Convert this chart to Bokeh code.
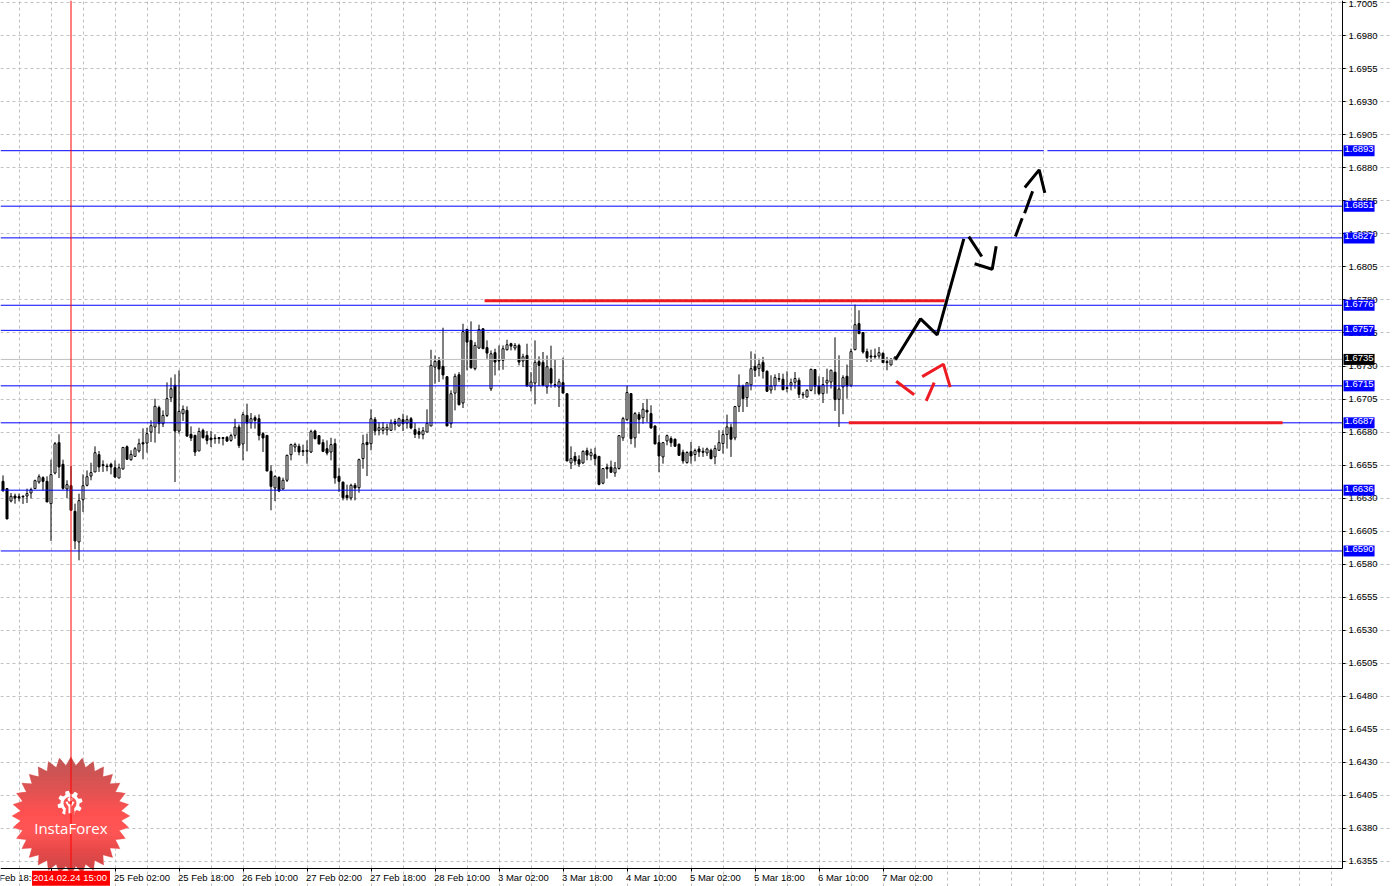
import math
from bokeh.embed import file_html
from bokeh.models import (ColumnDataSource, FixedTicker, Label, NumeralTickFormatter,
                          PolyAnnotation, Range1d)
from bokeh.plotting import figure
from bokeh.resources import INLINE

highs = [
 1.66472,1.66372,1.66339,1.66334,1.66334,1.66321,1.66372,1.66379,1.6644,1.6648,
 1.66465,1.66465,1.66591,1.66725,1.66783,1.66591,1.66435,1.66543,1.66258,1.66334,
 1.6648,1.6651,1.66568,1.66692,1.66657,1.66586,1.66561,1.66568,1.66586,1.66561,
 1.66687,1.66699,1.66662,1.66687,1.6675,1.66828,1.66833,1.66889,1.67053,1.67,
 1.66964,1.67176,1.67212,1.67237,1.67267,1.67002,1.66995,1.66843,1.6678,1.66833,
 1.66826,1.66808,1.66808,1.66783,1.66763,1.66763,1.6677,1.66788,1.66901,1.66858,
 1.66952,1.67015,1.66944,1.66926,1.66934,1.668,1.66775,1.66548,1.66472,1.66465,
 1.66455,1.66629,1.66712,1.6672,1.66712,
 1.66705,1.66737,1.66818,1.66818,1.66775,1.66745,1.66737,1.66757,1.6675,1.6653,
 1.66422,1.66402,1.66409,1.66414,1.66599,1.6678,1.66788,1.66972,1.66914,1.66876,
 1.66876,1.66863,1.66896,1.66901,1.66909,1.66939,1.66926,1.66914,1.66868,1.66833,
 1.66838,1.66972,1.67423,1.6738,1.67368,1.6759,1.67224,1.67116,1.67242,1.67254,
 1.6762,1.67582,1.67638,1.67481,1.67613,1.67582,1.67494,1.67418,1.67431,1.67456,
 1.67456,1.67499,1.67476,1.67474,1.67469,1.67393,1.67469,1.67254,1.67494,1.67373,
 1.67406,1.6738,1.67454,1.67348,1.67204,1.67363,1.67095,1.66692,1.66649,1.66624,
 1.66662,1.66682,1.66674,1.66682,1.66619,
 1.66524,1.66561,1.66584,1.66574,1.66776,1.66915,1.67149,1.67096,1.66952,1.66952,
 1.6702,1.67051,1.67003,1.66851,1.66776,1.66725,1.66781,1.66768,1.66751,1.66713,
 1.66667,1.66655,1.66725,1.66675,1.66695,1.66682,1.66682,1.66675,1.667,1.66814,
 1.66814,1.66932,1.66864,1.66998,1.67237,1.67159,1.67174,1.67411,1.67394,1.67356,
 1.67369,1.67268,1.6723,1.67237,1.67247,1.67242,1.6726,1.67205,1.67255,1.67212,
 1.67104,1.67126,1.6728,1.67275,1.67222,1.67217,1.6728,1.67273,1.67517,1.67381,
 1.6723,1.67311,1.67432,1.67765,1.67722,1.67553,1.67432,1.67424,1.67432,1.67444,
 1.67404,1.67369,1.67361,1.67376]

lows = [
 1.66346,1.66142,1.66268,1.66258,1.66276,1.66256,1.66263,1.66298,1.66372,1.66409,
 1.66359,1.66271,1.65976,1.6648,1.66452,1.66364,1.66301,1.66208,1.65913,1.65829,
 1.66195,1.66389,1.66435,1.66498,1.66498,1.66498,1.66503,1.6648,1.66452,1.66452,
 1.6652,1.66591,1.66583,1.66616,1.66644,1.66594,1.66644,1.66725,1.6672,1.66788,
 1.66838,1.66914,1.67027,1.66422,1.66788,1.66884,1.66763,1.66732,1.66619,1.66657,
 1.6675,1.66707,1.66687,1.66712,1.66712,1.66699,1.66725,1.66727,1.6675,1.66679,
 1.66586,1.66654,1.66826,1.66826,1.66737,1.66649,1.66505,1.66208,1.66278,1.66346,
 1.66364,1.66422,1.66586,1.66649,1.66624,
 1.66619,1.66561,1.66641,1.66745,1.66707,1.66649,1.66624,1.66586,1.66409,1.66346,
 1.66283,1.66283,1.66283,1.66283,1.66341,1.66523,1.66467,1.66662,1.66775,1.66775,
 1.66783,1.66775,1.66808,1.66813,1.66843,1.66808,1.66826,1.66821,1.66755,1.6675,
 1.66745,1.668,1.66846,1.67166,1.67179,1.67199,1.66846,1.66831,1.66964,1.67002,
 1.66982,1.67267,1.6728,1.67267,1.67431,1.67431,1.67355,1.67111,1.67229,1.67267,
 1.67272,1.67418,1.67418,1.67418,1.67305,1.67292,1.67148,1.67108,1.6701,1.67148,
 1.67146,1.6709,1.67136,1.67136,1.6699,1.67095,1.66581,1.6652,1.66548,1.66536,
 1.66561,1.66586,1.66586,1.66548,1.66397,
 1.66405,1.66448,1.66491,1.66461,1.66516,1.66733,1.66884,1.66708,1.66682,1.66788,
 1.66864,1.66877,1.66826,1.66708,1.66496,1.66561,1.667,1.66688,1.66688,1.66619,
 1.66561,1.66561,1.66561,1.66579,1.66612,1.66612,1.66619,1.66594,1.66556,1.66657,
 1.66637,1.66675,1.66612,1.66738,1.66952,1.66952,1.6699,1.67116,1.67217,1.67222,
 1.67205,1.67104,1.67091,1.67116,1.67179,1.67116,1.67101,1.67116,1.67129,1.67058,
 1.67053,1.67061,1.67109,1.67086,1.67078,1.6702,1.67091,1.67129,1.6696,1.66839,
 1.66935,1.67053,1.67142,1.67419,1.67545,1.67394,1.67331,1.67331,1.67356,1.67356,
 1.67323,1.67268,1.67305,1.67348]

opens = [
 1.66427,1.66372,1.66278,1.66316,1.66311,1.66314,1.66316,1.66339,1.66372,1.66422,
 1.66455,1.66427,1.66258,1.6649,1.6672,1.66556,1.66369,1.66394,1.662,1.65968,
 1.66288,1.66397,1.66467,1.66498,1.66629,1.66553,1.66543,1.66556,1.6653,1.66452,
 1.6652,1.66689,1.66591,1.66616,1.66657,1.6672,1.66717,1.668,1.66838,1.66985,
 1.66863,1.66926,1.6706,1.67154,1.66808,1.66939,1.66964,1.66783,1.66775,1.66657,
 1.66813,1.66775,1.66755,1.66755,1.66758,1.66758,1.6676,1.66737,1.66775,1.66838,
 1.6671,1.66926,1.66871,1.66909,1.66901,1.66788,1.66775,1.66503,1.66377,1.66457,
 1.66369,1.66435,1.66629,1.66687,1.66692,
 1.66659,1.66654,1.66649,1.66808,1.66773,1.6672,1.66674,1.66649,1.66712,1.66465,
 1.66422,1.66321,1.66301,1.66397,1.66379,1.66599,1.66722,1.66712,1.66896,1.66813,
 1.66813,1.66816,1.66813,1.66879,1.66846,1.66894,1.66868,1.66901,1.66818,1.66803,
 1.6678,1.668,1.66846,1.67292,1.6734,1.67297,1.67219,1.66863,1.67095,1.67234,
 1.6702,1.67577,1.67494,1.6728,1.67436,1.67582,1.67439,1.67128,1.67401,1.67343,
 1.67343,1.67423,1.67469,1.67436,1.67456,1.67338,1.6738,1.67141,1.67171,1.67333,
 1.67328,1.67141,1.6728,1.67159,1.67141,1.67174,1.6709,1.66566,1.66616,1.66591,
 1.66566,1.66659,1.66621,1.66629,1.66616,
 1.66413,1.66534,1.66534,1.66491,1.66524,1.66756,1.66894,1.67091,1.66756,1.66932,
 1.66909,1.66965,1.6694,1.66846,1.6672,1.66612,1.66733,1.66751,1.66746,1.66708,
 1.66647,1.66569,1.66652,1.6663,1.66672,1.66655,1.66642,1.66662,1.66612,1.66662,
 1.66713,1.66781,1.66836,1.66756,1.66995,1.67149,1.67061,1.67157,1.67298,1.6728,
 1.67328,1.6726,1.67119,1.67152,1.67205,1.672,1.67136,1.67154,1.67177,1.67192,
 1.67086,1.67066,1.67116,1.67273,1.67149,1.67091,1.67172,1.67179,1.67253,1.67048,
 1.67142,1.67222,1.67154,1.67424,1.67621,1.67553,1.67409,1.67376,1.67376,1.67376,
 1.67396,1.67333,1.67308,1.67348]

closes = [
 1.66359,1.66142,1.66314,1.66301,1.66301,1.66309,1.66334,1.66364,1.66432,1.66462,
 1.66427,1.66271,1.66478,1.66712,1.66536,1.66374,1.66402,1.66208,1.65976,1.66281,
 1.66394,1.66462,1.66493,1.66644,1.66536,1.66546,1.66538,1.66536,1.6646,1.6653,
 1.66684,1.66594,1.66631,1.66674,1.66712,1.6671,1.66788,1.66848,1.66995,1.66863,
 1.66926,1.67053,1.67128,1.66808,1.66957,1.66972,1.6677,1.66755,1.66649,1.66805,
 1.66758,1.66737,1.66742,1.6675,1.6675,1.66752,1.66732,1.66773,1.66838,1.66699,
 1.66932,1.66868,1.66901,1.66889,1.66775,1.66755,1.66505,1.66389,1.66465,1.66354,
 1.66435,1.66624,1.66705,1.66705,1.66649,
 1.66652,1.66662,1.66803,1.6675,1.6671,1.66654,1.66641,1.66705,1.66452,1.66427,
 1.66303,1.66303,1.66397,1.66377,1.66591,1.66712,1.66705,1.66901,1.66808,1.66833,
 1.66833,1.66836,1.66868,1.66861,1.66901,1.66863,1.66894,1.66831,1.66783,1.66783,
 1.6681,1.66866,1.67305,1.67335,1.67277,1.67232,1.66846,1.6709,1.67222,1.67007,
 1.6756,1.67481,1.67287,1.67456,1.67577,1.67431,1.67398,1.67393,1.6733,1.67338,
 1.67431,1.67461,1.67451,1.67456,1.6733,1.6737,1.67148,1.67179,1.67328,1.67305,
 1.67153,1.67295,1.67171,1.67151,1.67181,1.67095,1.66581,1.66599,1.66581,1.66558,
 1.66654,1.66626,1.66644,1.66599,1.66404,
 1.66524,1.66521,1.66496,1.66529,1.66773,1.66902,1.67099,1.66751,1.6694,1.66897,
 1.66973,1.66952,1.66831,1.6671,1.66619,1.6672,1.66773,1.6672,1.66693,1.66624,
 1.66582,1.66645,1.66619,1.6666,1.6665,1.66647,1.66672,1.66599,1.66675,1.6672,
 1.66781,1.66839,1.66746,1.66993,1.67149,1.67053,1.67174,1.6728,1.67268,1.67313,
 1.6726,1.67109,1.67149,1.67212,1.672,1.67121,1.67131,1.67174,1.67205,1.67086,
 1.67081,1.67116,1.67275,1.67147,1.67091,1.67159,1.67192,1.67268,1.67046,1.67126,
 1.67212,1.67149,1.67409,1.67613,1.67545,1.67406,1.67363,1.67369,1.67369,1.67401,
 1.67326,1.67326,1.67351,1.67366]

tick_prices = [round(1.6355 + 0.0025 * k, 4) for k in range(27)]
blue_levels = [1.6893, 1.6851, 1.6827, 1.6776, 1.6757, 1.6715, 1.6687, 1.6636, 1.6590]
current_price = 1.6735
date_ticks = [-4, 12, 28, 44, 60, 76, 92, 108, 124, 140, 156, 172, 188, 204, 220]
date_labels = ["23 Feb 18:00", "24 Feb 10:00", "25 Feb 02:00", "25 Feb 18:00", "26 Feb 10:00", "27 Feb 02:00",
               "27 Feb 18:00", "28 Feb 10:00", "3 Mar 02:00", "3 Mar 18:00", "4 Mar 10:00",
               "5 Mar 02:00", "5 Mar 18:00", "6 Mar 10:00", "7 Mar 02:00"]
crosshair_bar = 17
crosshair_text = "2014.02.24 15:00"

# hand-drawn forecast strokes: (bar index, price)
black_strokes = [
 ([223.1, 229.4, 233.55, 240.2], [1.67347, 1.67657, 1.67536, 1.68263]),
 ([241.45, 244.7], [1.6828, 1.68129]),
 ([242.9, 247.3, 248.3], [1.68074, 1.68033, 1.68207]),
 ([253.1, 254.8], [1.6828, 1.68419]),
 ([255.4, 257.4], [1.68457, 1.68623]),
 ([255.45, 259.05, 260.45], [1.68651, 1.68785, 1.68611]),
]
red_strokes = [
 ([223.3, 227.8], [1.67185, 1.67082]),
 ([230.8, 232.8], [1.67036, 1.67175]),
 ([229.8, 235.1, 236.8], [1.6722, 1.67314, 1.6714]),
]
red_bars = [([120.4, 235.4], [1.67795, 1.67795]), ([211.45, 319.9], [1.6687, 1.6687])]
level_gap = ([260.2, 261.1], [1.6893, 1.6893])

FONT = "Liberation Sans"
FS = "9.5px"
W, H = 1392, 886
X_LEFT, X_AXIS, X_RIGHT = -0.625, 334.875, 347.375
P_BOTTOM_AXIS, P_TOP, P_BOTTOM = 1.63496, 1.70067, 1.63360

n = len(highs)
assert n == len(lows) == len(opens) == len(closes)
src = ColumnDataSource(dict(
    x=list(range(n)), high=highs, low=lows,
    top=[max(o, c) for o, c in zip(opens, closes)],
    bot=[min(o, c) for o, c in zip(opens, closes)],
    fill=["white" if c >= o else "black" for o, c in zip(opens, closes)],
))

p = figure(width=W, height=H, output_backend="svg", toolbar_location=None,
           x_range=Range1d(X_LEFT, X_RIGHT), y_range=Range1d(P_BOTTOM, P_TOP),
           y_axis_location="right", min_border=0, background_fill_color="white",
           outline_line_color=None)

p.yaxis.fixed_location = X_AXIS
p.xaxis.fixed_location = P_BOTTOM_AXIS
p.yaxis.bounds = (P_BOTTOM_AXIS, P_TOP)
p.xaxis.bounds = (X_LEFT, X_AXIS)
p.yaxis.ticker = FixedTicker(ticks=tick_prices)
p.yaxis.formatter = NumeralTickFormatter(format="0.0000")
p.xaxis.ticker = FixedTicker(ticks=date_ticks[1:])
p.xaxis.major_label_overrides = {t: "" for t in date_ticks}
for ax in (p.xaxis[0], p.yaxis[0]):
    ax.major_label_text_font = FONT
    ax.major_label_text_font_size = FS
    ax.major_label_text_color = "black"
    ax.axis_line_color = "black"
    ax.major_tick_line_color = "black"
    ax.major_tick_in = 0
    ax.major_tick_out = 3
    ax.minor_tick_line_color = None
    ax.major_label_standoff = 3

p.xgrid.ticker = FixedTicker(ticks=[4 + 8 * k for k in range(42)])
p.ygrid.ticker = FixedTicker(ticks=tick_prices)
p.xgrid.bounds = (P_BOTTOM_AXIS, P_TOP)
p.ygrid.bounds = (X_LEFT, X_AXIS)
for g in (p.xgrid[0], p.ygrid[0]):
    g.grid_line_color = "#c0c0c0"
    g.grid_line_dash = "3 3"
    g.grid_line_width = 1


def sy(y):
    return H - y


def clip_band(pts, y0, y1):
    def clip(poly, keep, cross):
        out = []
        for a, b in zip(poly, poly[1:] + poly[:1]):
            if keep(a):
                out.append(a)
            if keep(a) != keep(b):
                out.append(cross(a, b))
        return out
    def at(yv):
        return lambda a, b: (a[0] + (b[0] - a[0]) * (yv - a[1]) / (b[1] - a[1]), yv)
    r = clip(pts, lambda q: q[1] >= y0, at(y0))
    return clip(r, lambda q: q[1] <= y1, at(y1)) if r else r


def star_color(y):
    stops = [(757, (190, 85, 85)), (790, (225, 82, 82)), (812, (255, 80, 80)),
             (832, (255, 85, 85)), (852, (228, 72, 72)), (876, (198, 70, 70))]
    for (y0, c0), (y1, c1) in zip(stops, stops[1:]):
        if y <= y1:
            t = max(0, (y - y0) / (y1 - y0))
            return "#%02x%02x%02x" % tuple(round(a + (b - a) * t) for a, b in zip(c0, c1))
    return "#c64646"


def poly(pts, color, level="underlay", **kw):
    p.add_layout(PolyAnnotation(xs=[q[0] for q in pts], ys=[sy(q[1]) for q in pts],
                                xs_units="screen", ys_units="screen", fill_color=color,
                                fill_alpha=1, line_color=kw.get("line", None),
                                line_alpha=1, level=level))


CX, CY = 70.4, 815.4
TEETH = 32
star = []
for k in range(TEETH * 2):
    r = 59 if k % 2 == 0 else 50.5
    a = math.pi * k / TEETH
    star.append((CX + r * math.sin(a), CY - r * math.cos(a)))
poly(star, "#f0a0a0", line="#f8c8c8")
for yb in range(756, 876, 4):
    band = clip_band(star, yb, yb + 4.6)
    if len(band) >= 3:
        poly(band, star_color(yb + 2))

GX, GY = 69.5, 802.8
gear = []
for k in range(64):
    a = 2 * math.pi * k / 64
    r = 12.5 if (k + 4) % 8 < 4 else 9.5
    gear.append((GX + r * math.sin(a), GY - r * math.cos(a)))
poly(gear, "white")
inner = [(GX + 6.5 * math.sin(2 * math.pi * k / 24), GY - 6.5 * math.cos(2 * math.pi * k / 24)) for k in range(24)]
poly(inner, "#fb5252")
poly([(GX - 4, GY + 4), (GX + 4, GY + 4), (GX + 5, GY + 14), (GX - 5, GY + 14)], star_color(812))
poly([(GX - 4.5, GY - 1), (GX - 2.5, GY - 2), (GX - 1.2, GY + 1), (GX + 1.2, GY + 1), (GX + 2.5, GY - 2),
      (GX + 4.5, GY - 1), (GX + 1.5, GY + 3.5), (GX + 1.5, GY + 10), (GX - 1.5, GY + 10), (GX - 1.5, GY + 3.5)], "white")
dot = [(GX + 2.2 * math.sin(2 * math.pi * k / 12), GY - 4 - 2.2 * math.cos(2 * math.pi * k / 12)) for k in range(12)]
poly(dot, "white")

p.segment("x", "high", "x", "low", source=src, line_color="black", line_width=1)
p.vbar(x="x", width=0.5, top="top", bottom="bot", source=src, fill_color="fill",
       line_color="black", line_width=1)

p.segment([X_LEFT], [current_price], [X_AXIS], [current_price], line_color="#c0c0c0", line_width=1)
p.segment([X_LEFT] * len(blue_levels), blue_levels, [X_AXIS] * len(blue_levels), blue_levels,
          line_color="#0000ff", line_width=1)
p.line(*level_gap, line_color="white", line_width=2)
p.segment([crosshair_bar], [P_BOTTOM_AXIS], [crosshair_bar], [P_TOP], line_color="#ff0000", line_width=1)

for xs, ys in red_bars:
    p.line(xs, ys, line_color="#ed1c24", line_width=3)
for xs, ys in black_strokes:
    p.line(xs, ys, line_color="black", line_width=3)
for xs, ys in red_strokes:
    p.line(xs, ys, line_color="#ed1c24", line_width=3)

for lv, bg in [(v, "#0000ff") for v in blue_levels] + [(current_price, "#000000")]:
    p.add_layout(Label(x=1343, x_units="screen", y=lv, y_units="data", text=f"{lv:.4f}",
                       text_color="white", text_font=FONT, text_font_size=FS,
                       text_baseline="middle", text_align="left", padding=(1, 1, 1, 4),
                       background_fill_color=bg, level="overlay"))

for t, s in zip(date_ticks, date_labels):
    p.add_layout(Label(x=t, x_offset=-1, y=sy(877.2), y_units="screen", text=s, text_font=FONT,
                       text_font_size=FS, text_color="black", text_align="left", text_baseline="middle"))
p.add_layout(Label(x=crosshair_bar, y=sy(877.7), y_units="screen", text=crosshair_text, text_font=FONT,
                   text_font_size=FS, text_color="white", text_align="center", text_baseline="middle",
                   background_fill_color="#ff0000", padding=(1, 3, 1, 3), level="overlay"))
p.add_layout(Label(x=CX, x_units="screen", y=sy(827), y_units="screen", text="InstaForex", text_font="Open Sans",
                   text_font_size="15px", text_color="white", text_align="center", text_baseline="middle",
                   level="overlay"))

open("out.html", "w").write(file_html(p, INLINE))
